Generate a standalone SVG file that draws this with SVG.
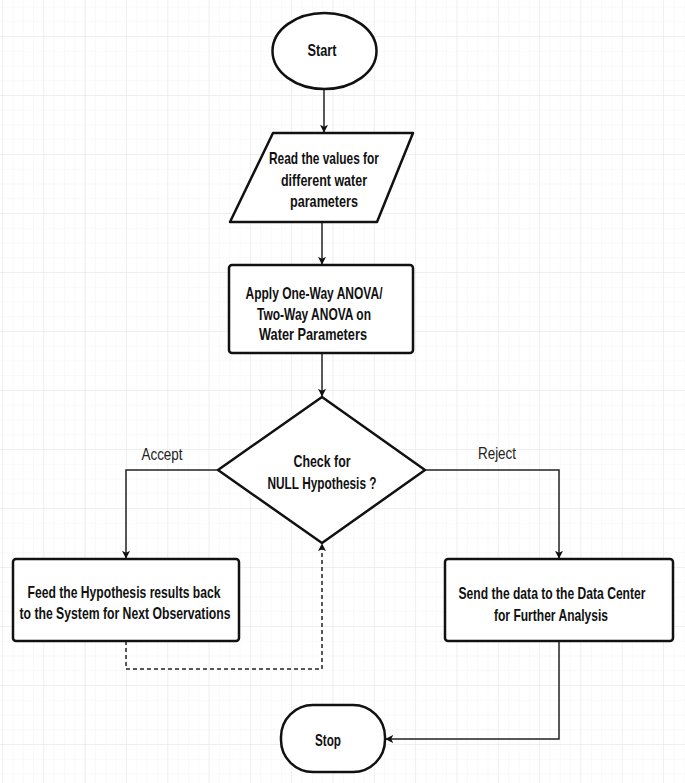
<svg xmlns="http://www.w3.org/2000/svg" width="685" height="783" viewBox="0 0 685 783">
<style>
.node{fill:#ffffff;stroke:#111111;stroke-width:2.5;stroke-linejoin:round}
.t{font-family:"Liberation Sans Narrow","Liberation Sans",Arial,sans-serif;font-weight:bold;font-size:17px;fill:#111111;text-anchor:middle}
.lbl{font-family:"Liberation Sans Narrow","Liberation Sans",Arial,sans-serif;font-size:17px;fill:#222222;text-anchor:middle}
.c{fill:none;stroke:#222222;stroke-width:1.5}
.d{fill:none;stroke:#222222;stroke-width:1.5;stroke-dasharray:4 3}
</style>
<defs>
<pattern id="minor" patternUnits="userSpaceOnUse" x="2" y="-23" width="10.33" height="14.75">
<path d="M0 0V14.75M0 0H10.33" fill="none" stroke="#f3f3f3" stroke-width="1"/>
</pattern>
<pattern id="major" patternUnits="userSpaceOnUse" x="2" y="-23" width="41.31" height="59">
<path d="M0 0V59M0 0H41.31" fill="none" stroke="#e6e6e6" stroke-width="1"/>
</pattern>
<marker id="ah" viewBox="0 0 10 10" refX="9" refY="5" markerWidth="8" markerHeight="8" markerUnits="userSpaceOnUse" orient="auto">
<path d="M0 0L10 5L0 10L2.5 5Z" fill="#111111"/>
</marker>
</defs>
<rect width="685" height="783" fill="#ffffff"/>
<rect width="685" height="783" fill="url(#minor)"/>
<rect width="685" height="783" fill="url(#major)"/>

<g id="connectors">
<path class="c" d="M324 89V132" marker-end="url(#ah)"/>
<path class="c" d="M322 222V264" marker-end="url(#ah)"/>
<path class="c" d="M322 353V396" marker-end="url(#ah)"/>
<path class="c" d="M218 470H126V558" marker-end="url(#ah)"/>
<path class="c" d="M425 470H559V558" marker-end="url(#ah)"/>
<path class="d" d="M126 641V669H322V544" marker-end="url(#ah)"/>
<path class="c" d="M559 641V739H386" marker-end="url(#ah)"/>
<text class="lbl" x="162" y="460" textLength="41" lengthAdjust="spacingAndGlyphs">Accept</text>
<text class="lbl" x="497" y="459" textLength="38" lengthAdjust="spacingAndGlyphs">Reject</text>
</g>

<g id="start">
<ellipse class="node" cx="324.5" cy="51" rx="52" ry="38"/>
<text class="t" x="322" y="56" textLength="29" lengthAdjust="spacingAndGlyphs">Start</text>
</g>

<g id="read">
<path class="node" d="M273 133H413L377 222H230Z"/>
<text class="t" x="324" y="164" textLength="110" lengthAdjust="spacingAndGlyphs">Read the values for</text>
<text class="t" x="324" y="186" textLength="86" lengthAdjust="spacingAndGlyphs">different water</text>
<text class="t" x="324" y="207" textLength="68" lengthAdjust="spacingAndGlyphs">parameters</text>
</g>

<g id="anova">
<rect class="node" x="229" y="265" width="184" height="88" rx="3"/>
<text class="t" x="314" y="299" textLength="137" lengthAdjust="spacingAndGlyphs">Apply One-Way ANOVA/</text>
<text class="t" x="314" y="320" textLength="114" lengthAdjust="spacingAndGlyphs">Two-Way ANOVA on</text>
<text class="t" x="313" y="340" textLength="108" lengthAdjust="spacingAndGlyphs">Water Parameters</text>
</g>

<g id="check">
<path class="node" d="M322 397L425 470L322 543L218 470Z" stroke-linejoin="miter"/>
<text class="t" x="322" y="467" textLength="57" lengthAdjust="spacingAndGlyphs">Check for</text>
<text class="t" x="322" y="489" textLength="109" lengthAdjust="spacingAndGlyphs">NULL Hypothesis ?</text>
</g>

<g id="feed">
<rect class="node" x="13" y="559" width="226" height="82" rx="3"/>
<text class="t" x="124" y="598" textLength="193" lengthAdjust="spacingAndGlyphs">Feed the Hypothesis results back</text>
<text class="t" x="125" y="619" textLength="211" lengthAdjust="spacingAndGlyphs">to the System for Next Observations</text>
</g>

<g id="send">
<rect class="node" x="445" y="559" width="228" height="82" rx="3"/>
<text class="t" x="552" y="599" textLength="187" lengthAdjust="spacingAndGlyphs">Send the data to the Data Center</text>
<text class="t" x="551" y="621" textLength="114" lengthAdjust="spacingAndGlyphs">for Further Analysis</text>
</g>

<g id="stop">
<rect class="node" x="281" y="705" width="104" height="67" rx="32" ry="32"/>
<text class="t" x="328" y="746" textLength="26" lengthAdjust="spacingAndGlyphs">Stop</text>
</g>
</svg>
